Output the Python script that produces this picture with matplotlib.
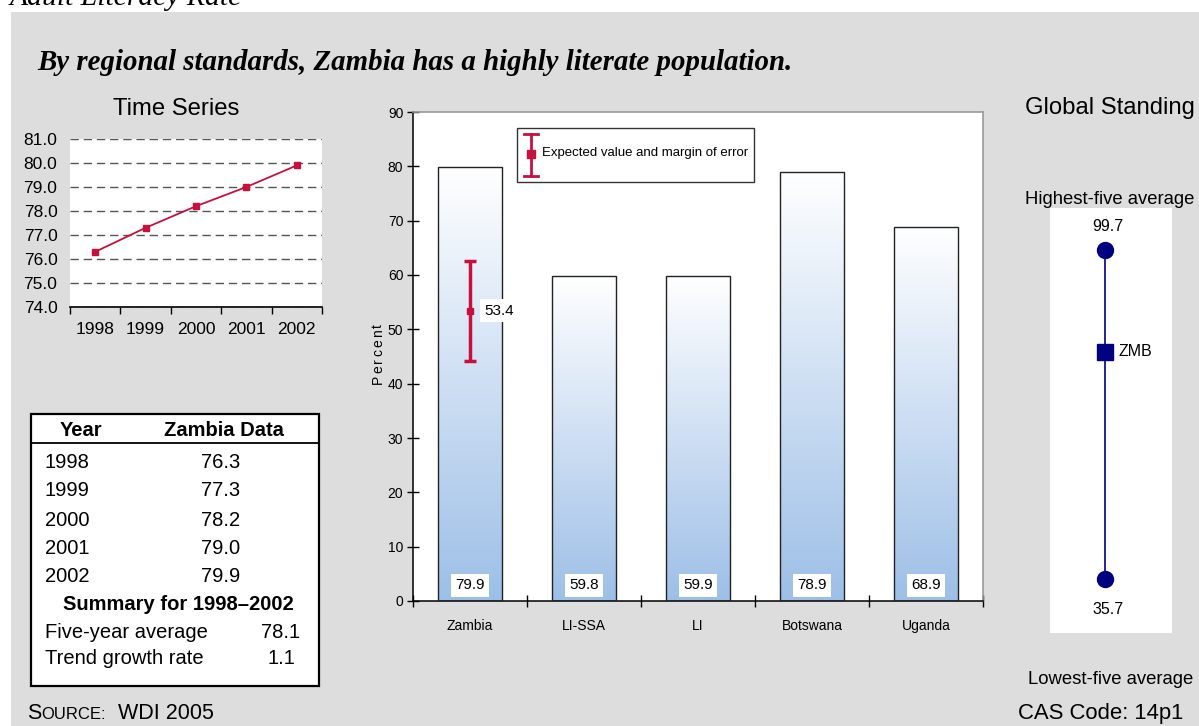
import matplotlib
matplotlib.use("Agg")
import matplotlib.pyplot as plt
import numpy as np
from matplotlib import font_manager
from matplotlib.patches import Rectangle
from matplotlib.lines import Line2D

# ---- data -------------------------------------------------------------
years = ["1998", "1999", "2000", "2001", "2002"]
zambia_series = [76.3, 77.3, 78.2, 79.0, 79.9]

countries = ["Zambia", "LI-SSA", "LI", "Botswana", "Uganda"]
literacy = [79.9, 59.8, 59.9, 78.9, 68.9]

expected_value = 53.4
margin_of_error = 9.2

five_year_average = 78.1
trend_growth_rate = 1.1

highest_five = 99.7
lowest_five = 35.7
zmb_value = 79.9
zmb_code = "ZMB"

# ---- styling ----------------------------------------------------------
W, H = 1199, 726
names = {f.name for f in font_manager.fontManager.ttflist}
SANS = "Liberation Sans"
SERIF = "Liberation Serif"
if "Liberation Sans Narrow" in names:
    NARROW, NS = "Liberation Sans Narrow", 1.12
else:
    NARROW, NS = "Liberation Sans", 1.0
plt.rcParams["font.family"] = [SANS, "DejaVu Sans"]

RED = "#c8103e"
NAVY = "#000080"
BG = "#dddddd"
BLUE = np.array([157, 191, 231]) / 255.0


def fx(x):
    return x / W


def fy(y):
    return 1 - y / H


def rect(l, t, r, b):
    return [l / W, 1 - b / H, (r - l) / W, (b - t) / H]


fig = plt.figure(figsize=(W / 100, H / 100), dpi=100)
fig.patch.set_facecolor("white")
fig.add_artist(Rectangle((fx(11), 0), 1 - fx(11), fy(12), transform=fig.transFigure,
                         facecolor=BG, edgecolor="none", zorder=0))

fig.text(fx(10), fy(5), "Adult Literacy Rate", family=SERIF, style="italic",
         size=21.3, va="baseline")
fig.text(fx(37), fy(70), "By regional standards, Zambia has a highly literate population.",
         family=SERIF, style="italic", weight="bold", size=20.75, va="baseline")

# ---- time series ------------------------------------------------------
ax1 = fig.add_axes(rect(70, 139, 322, 307))
ax1.set_facecolor("white")
xs = np.arange(len(years)) + 0.5
ax1.plot(xs, zambia_series, color=RED, lw=1.3, marker="s", ms=4.5, zorder=3)
ax1.set_xlim(0, len(years))
ax1.set_ylim(74, 81)
yt = np.arange(74, 82, 1)
ax1.set_yticks(yt)
ax1.set_yticklabels([f"{v:.1f}" for v in yt])
ax1.yaxis.grid(True, ls=(0, (6, 3.5)), color="#555555", lw=1)
ax1.set_axisbelow(True)
for s in ("top", "right", "left"):
    ax1.spines[s].set_visible(False)
ax1.spines["bottom"].set_color("black")
ax1.spines["bottom"].set_linewidth(1.2)
ax1.tick_params(axis="y", length=0, pad=9, labelsize=12.5)
ax1.set_xticks(np.arange(len(years) + 1))
ax1.set_xticklabels([])
ax1.set_xticks(xs, minor=True)
ax1.set_xticklabels(years, minor=True)
ax1.tick_params(axis="x", which="major", direction="out", length=5, width=1, color="black")
ax1.tick_params(axis="x", which="minor", length=0, pad=11, labelsize=12.5)
fig.text(fx(176), fy(109), "Time Series", size=17.2, ha="center", va="center")

# ---- data table -------------------------------------------------------
axt = fig.add_axes(rect(31, 414, 319, 686))
axt.set_xlim(31, 319)
axt.set_ylim(686, 414)
axt.axis("off")
axt.add_patch(Rectangle((31, 414), 288, 272, facecolor="white", edgecolor="black",
                        lw=1.6, clip_on=False))
axt.plot([31, 319], [443, 443], color="black", lw=1.3)
TS = 14.5
axt.text(81, 431, "Year", weight="bold", size=TS, ha="center", va="center")
axt.text(224, 431, "Zambia Data", weight="bold", size=TS, ha="center", va="center")
row_y = [462, 491, 520, 548, 576]
for yr, v, ry in zip(years, zambia_series, row_y):
    axt.text(45, ry, yr, size=TS, ha="left", va="center")
    axt.text(240, ry, f"{v:.1f}", size=TS, ha="right", va="center")
axt.text(178, 604, f"Summary for {years[0]}\u2013{years[-1]}", weight="bold", size=TS,
         ha="center", va="center")
axt.text(45, 632, "Five-year average", size=TS, ha="left", va="center")
axt.text(281, 632, f"{five_year_average:.1f}", size=TS, ha="center", va="center")
axt.text(45, 659, "Trend growth rate", size=TS, ha="left", va="center")
axt.text(281, 659, f"{trend_growth_rate:.1f}", size=TS, ha="center", va="center")

# ---- comparison bars --------------------------------------------------
ax2 = fig.add_axes(rect(413, 112, 983, 601))
ax2.set_facecolor("white")
bx = np.arange(len(countries)) + 0.5
bars = ax2.bar(bx, literacy, width=0.57, facecolor="none", edgecolor="#222222",
               lw=1, zorder=3)
t = np.linspace(0, 1, 256)[:, None, None]
grad = BLUE[None, None, :] + (1 - BLUE[None, None, :]) * t
for b in bars:
    ax2.imshow(grad, extent=[b.get_x(), b.get_x() + b.get_width(), 0, b.get_height()],
               origin="lower", aspect="auto", zorder=2, interpolation="bilinear")
for xc, v in zip(bx, literacy):
    ax2.text(xc, 2.9, f"{v:.1f}", ha="center", va="center", family=NARROW, size=11 * NS,
             bbox=dict(facecolor="white", edgecolor="none", pad=3.2), zorder=4)

ax2.errorbar(bx[0], expected_value, yerr=margin_of_error, fmt="s", color=RED, ms=5,
             elinewidth=2.5, capsize=4, capthick=2.5, zorder=5)
ax2.text(bx[0] + 0.13, expected_value, f"{expected_value:.1f}", ha="left", va="center",
         family=NARROW, size=11 * NS, zorder=5,
         bbox=dict(facecolor="white", edgecolor="none", pad=3.2))

ax2.set_xlim(0, len(countries))
ax2.set_ylim(0, 90)
ax2.set_yticks(np.arange(0, 91, 10))
ax2.set_xticks(np.arange(len(countries) + 1))
ax2.set_xticklabels([])
ax2.set_xticks(bx, minor=True)
ax2.set_xticklabels(countries, minor=True)
ax2.tick_params(axis="both", which="major", direction="inout", length=8, width=1,
                color="black")
ax2.tick_params(axis="y", pad=3, labelsize=10 * NS)
for lab in ax2.get_yticklabels():
    lab.set_family(NARROW)
ax2.tick_params(axis="x", which="minor", length=0, pad=13, labelsize=10 * NS)
for lab in ax2.get_xticklabels(minor=True):
    lab.set_family(NARROW)
for s in ("left", "bottom"):
    ax2.spines[s].set_color("black")
    ax2.spines[s].set_linewidth(1.1)
for s in ("top", "right"):
    ax2.spines[s].set_color("#999999")
    ax2.spines[s].set_linewidth(1.2)

# legend box
lx0, lx1 = (517 - 413) / 570, (754 - 413) / 570
ly0, ly1 = (601 - 182) / 489, (601 - 128) / 489
ax2.add_patch(Rectangle((lx0, ly0), lx1 - lx0, ly1 - ly0, transform=ax2.transAxes,
                        facecolor="white", edgecolor="#333333", lw=1, zorder=6))
ex = (531 - 413) / 570
ey_top, ey_bot, ey_mid = (601 - 134) / 489, (601 - 176) / 489, (601 - 154) / 489
cw = 7 / 570
ax2.add_line(Line2D([ex, ex], [ey_bot, ey_top], transform=ax2.transAxes, color=RED,
                    lw=2, zorder=7))
for yy in (ey_bot, ey_top):
    ax2.add_line(Line2D([ex - cw, ex + cw], [yy, yy], transform=ax2.transAxes, color=RED,
                        lw=2, zorder=7))
ax2.add_line(Line2D([ex], [ey_mid], transform=ax2.transAxes, color=RED, marker="s",
                    ms=6, lw=0, zorder=8))
ax2.text((542 - 413) / 570, (601 - 153) / 489, "Expected value and margin of error",
         transform=ax2.transAxes, family=NARROW,
         size=(9.5 if NARROW == SANS else 11.5), ha="left", va="center", zorder=8)

# spaced vertical axis title
renderer = fig.canvas.get_renderer()
ypos = 384
for ch in "Percent":
    tt = fig.text(fx(378), fy(ypos), ch, rotation=90, family=NARROW, size=10 * NS,
                  ha="center", va="bottom")
    ext = tt.get_window_extent(renderer)
    ypos -= ext.height + 2.0

# ---- global standing --------------------------------------------------
ax3 = fig.add_axes(rect(1050, 208, 1172, 633))
ax3.set_facecolor("white")
pxu = (579 - 250) / (highest_five - lowest_five)
ax3.set_ylim(lowest_five - (633 - 579) / pxu, highest_five + (250 - 208) / pxu)
ax3.set_xlim(0, 1)
ax3.set_xticks([])
ax3.set_yticks([])
for s in ax3.spines.values():
    s.set_visible(False)
lx = 0.45
ax3.plot([lx, lx], [lowest_five, highest_five], color=NAVY, lw=1.2, zorder=2)
ax3.plot([lx, lx], [lowest_five, highest_five], "o", ms=11.5, color=NAVY, zorder=3)
ax3.plot([lx], [zmb_value], "s", ms=11, color=NAVY, zorder=3)
ax3.annotate(f"{highest_five:.1f}", (lx, highest_five), xytext=(2, 17), textcoords="offset points",
             ha="center", va="center", size=11.5)
ax3.annotate(f"{lowest_five:.1f}", (lx, lowest_five), xytext=(2, -22), textcoords="offset points",
             ha="center", va="center", size=11.5)
ax3.annotate(zmb_code, (lx, zmb_value), xytext=(9.5, 0), textcoords="offset points",
             ha="left", va="center", size=11.5)

fig.text(fx(1110), fy(108), "Global Standing", size=17.2, ha="center", va="center")
fig.text(fx(1110), fy(200), "Highest-five average", size=13.3, ha="center", va="center")
fig.text(fx(1111), fy(679), "Lowest-five average", size=13.3, ha="center", va="center")
fig.text(fx(1183), fy(713), "CAS Code: 14p1", size=15.9, ha="right", va="center")

# ---- source line with small capitals ----------------------------------
xcur = 27
for txt, sz in (("S", 15.5), ("OURCE:", 12), ("\u00a0\u00a0WDI 2005", 15.5)):
    tt = fig.text(fx(xcur), fy(719), txt, size=sz, ha="left", va="baseline")
    xcur += tt.get_window_extent(renderer).width

fig.savefig("out.png", dpi=100, facecolor=fig.get_facecolor())
